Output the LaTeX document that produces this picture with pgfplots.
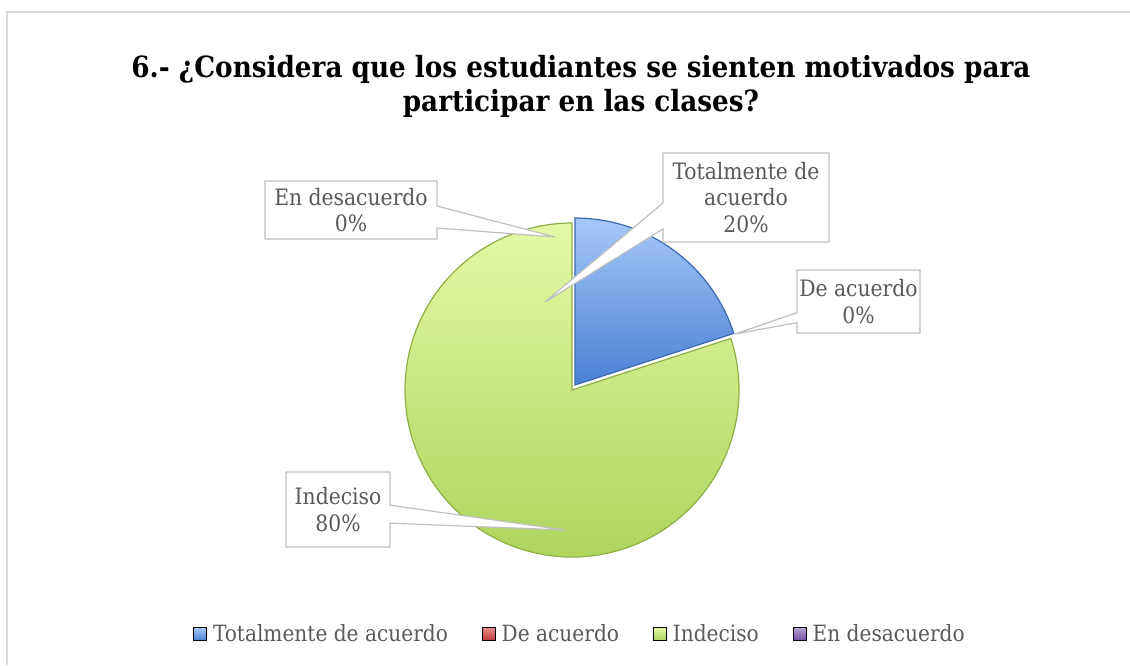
\documentclass[border=0pt]{standalone}
\usepackage{pgfplots}
\pgfplotsset{compat=1.18}
\usepackage{pgfplotstable}
\usepackage{fontspec}
\setmainfont{DejaVu Serif Condensed}
\usetikzlibrary{shapes.callouts}

\definecolor{txt}{HTML}{595959}
\definecolor{boxc}{HTML}{BFBFBF}
\definecolor{framec}{HTML}{D9D9D9}
\definecolor{blueT}{HTML}{A6C8F7}
\definecolor{blueB}{HTML}{4A80D4}
\definecolor{blueE}{HTML}{3A6AB0}
\definecolor{greenT}{HTML}{E4F9A4}
\definecolor{greenB}{HTML}{ABD25A}
\definecolor{greenE}{HTML}{8DAF45}
\definecolor{redT}{HTML}{E88A88}
\definecolor{redB}{HTML}{B83C3A}
\definecolor{purT}{HTML}{B7A2D6}
\definecolor{purB}{HTML}{6E4F9C}

\pgfplotstableread[col sep=comma]{
name,value
Totalmente de acuerdo,20
De acuerdo,0
Indeciso,80
En desacuerdo,0
}\piedata

\pgfplotstablegetelem{0}{value}\of\piedata \let\vA\pgfplotsretval
\pgfplotstablegetelem{1}{value}\of\piedata \let\vB\pgfplotsretval
\pgfplotstablegetelem{2}{value}\of\piedata \let\vC\pgfplotsretval
\pgfplotstablegetelem{3}{value}\of\piedata \let\vD\pgfplotsretval
\pgfmathsetmacro\aStart{90}
\pgfmathsetmacro\aA{\aStart-3.6*\vA}
\pgfmathsetmacro\aB{\aA-3.6*\vB}
\pgfmathsetmacro\aC{\aB-3.6*\vC}
\def\R{83.5pt}

\tikzset{lbl/.style={rectangle callout, draw=boxc, line width=0.6pt, fill=white, text=txt,
  align=center, inner sep=1pt, font=\fontsize{11.3}{13.4}\selectfont}}

\begin{document}
\begin{tikzpicture}
\begin{axis}[hide axis, scale only axis, width=565pt, height=332.5pt,
  xmin=0, xmax=1130, ymin=0, ymax=665, clip=false,
  legend columns=4,
  legend style={at={(axis cs:580,31)}, anchor=center, draw=none, fill=none,
    font=\fontsize{11.2}{13}\selectfont, text=txt,
    nodes={inner sep=1pt},
    /tikz/every odd column/.append style={column sep=2pt},
    /tikz/every even column/.append style={column sep=16pt}},
  legend image code/.code={\shade[top color=blueT,bottom color=blueB] (0pt,-3.25pt) rectangle (6.5pt,3.25pt);}]

% frame
\draw[framec, line width=1pt] (axis cs:7,0) -- (axis cs:7,653) -- (axis cs:1130,653);

% title
\node[anchor=base, font=\fontsize{14.6}{17}\selectfont\bfseries] at (axis cs:581,587)
  {6.- ¿Considera que los estudiantes se sienten motivados para};
\node[anchor=base, font=\fontsize{14.6}{17}\selectfont\bfseries] at (axis cs:581,553)
  {participar en las clases?};

% slices (angles from data)
\shade[top color=greenT, bottom color=greenB, draw=greenE, line width=0.6pt]
  (axis cs:572,275) -- ++(\aB:\R) arc[start angle=\aB, end angle=\aC, radius=\R] -- cycle;
\shade[top color=blueT, bottom color=blueB, draw=blueE, line width=0.6pt]
  (axis cs:575,280) -- ++(\aStart:\R) arc[start angle=\aStart, end angle=\aA, radius=\R] -- cycle;

% data labels
\node[lbl, minimum width=83pt, minimum height=44.5pt, callout pointer width=13pt,
  callout absolute pointer={(axis cs:545,363)}] at (axis cs:746,467.5)
  {Totalmente de\\acuerdo\\\vA\%};
\node[lbl, minimum width=61.5pt, minimum height=31.5pt, callout pointer width=5pt,
  callout absolute pointer={(axis cs:735,331)}] at (axis cs:858.5,363.5)
  {De acuerdo\\\vB\%};
\node[lbl, minimum width=52pt, minimum height=37.5pt, callout pointer width=9pt,
  callout absolute pointer={(axis cs:565,135)}] at (axis cs:338,155.5)
  {Indeciso\\\vC\%};
\node[lbl, minimum width=86pt, minimum height=29pt, callout pointer width=11pt,
  callout absolute pointer={(axis cs:555,428)}] at (axis cs:351,455)
  {En desacuerdo\\\vD\%};

\addlegendimage{legend image code/.code={\shade[top color=blueT,bottom color=blueB] (0pt,-3.25pt) rectangle (6.5pt,3.25pt);}}
\addlegendentry{Totalmente de acuerdo}
\addlegendimage{legend image code/.code={\shade[top color=redT,bottom color=redB] (0pt,-3.25pt) rectangle (6.5pt,3.25pt);}}
\addlegendentry{De acuerdo}
\addlegendimage{legend image code/.code={\shade[top color=greenT,bottom color=greenB] (0pt,-3.25pt) rectangle (6.5pt,3.25pt);}}
\addlegendentry{Indeciso}
\addlegendimage{legend image code/.code={\shade[top color=purT,bottom color=purB] (0pt,-3.25pt) rectangle (6.5pt,3.25pt);}}
\addlegendentry{En desacuerdo}
\end{axis}
\pgfresetboundingbox
\useasboundingbox (current axis.south west) rectangle (current axis.north east);
\end{tikzpicture}
\end{document}
